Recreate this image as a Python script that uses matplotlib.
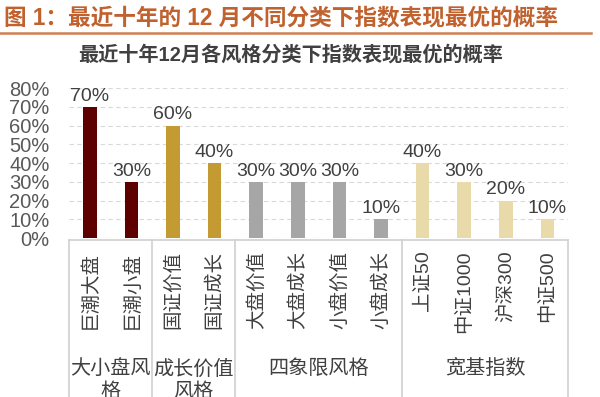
import matplotlib
matplotlib.use("Agg")
from matplotlib import pyplot as plt
from matplotlib.lines import Line2D

plt.rcParams['font.family'] = ['Liberation Sans', 'Noto Sans CJK SC', 'DejaVu Sans']

names = ["巨潮大盘", "巨潮小盘", "国证价值", "国证成长", "大盘价值", "大盘成长",
         "小盘价值", "小盘成长", "上证50", "中证1000", "沪深300", "中证500"]
probs = [0.7, 0.3, 0.6, 0.4, 0.3, 0.3, 0.3, 0.1, 0.4, 0.3, 0.2, 0.1]
groups = ["大小盘风\n格", "成长价值\n风格", "四象限风格", "宽基指数"]
group_sizes = [2, 2, 4, 4]
group_colors = ["#5E0000", "#C39B32", "#A6A6A6", "#E9DAAA"]

colors = []
for c, n in zip(group_colors, group_sizes):
    colors += [c] * n

fig = plt.figure(figsize=(6, 3.97), dpi=100)
ax = fig.add_axes([0.115, 0.4005, 0.832, 0.3775])

x = list(range(len(names)))
ax.bar(x, probs, width=0.33, color=colors, zorder=3)
for i, v in zip(x, probs):
    ax.text(i, v + 0.012, f"{int(round(v * 100))}%", ha='center', va='bottom',
            fontsize=14, color='#404040', clip_on=False)

ax.set_xlim(-0.5, len(names) - 0.5)
ax.set_ylim(0, 0.8)
ax.set_yticks([i / 10 for i in range(9)])
ax.set_yticklabels([f"{i * 10}%" for i in range(9)], fontsize=14.5, color='#595959')
ax.tick_params(axis='y', length=0, pad=14)
ax.set_xticks([])
for s in ax.spines.values():
    s.set_visible(False)
ax.grid(axis='y', color='#D9D9D9', linestyle=(0, (4, 3)), linewidth=0.8, zorder=0)

# category box below the axis
tr = ax.get_xaxis_transform()
ax.plot([-0.5, len(names) - 0.5], [-0.012, -0.012], transform=tr, color='#D0D0D0',
        lw=1.2, clip_on=False)
bounds = [-0.5]
for n in group_sizes:
    bounds.append(bounds[-1] + n)
for b in bounds:
    ax.plot([b, b], [-0.012, -1.1], transform=tr, color='#D0D0D0', lw=1.2, clip_on=False)

for i, name in enumerate(names):
    ax.text(i, -0.085, name, rotation=90, ha='center', va='top', fontsize=14,
            color='#404040', transform=tr)

for g, lo, hi in zip(groups, bounds[:-1], bounds[1:]):
    ax.text((lo + hi) / 2, -0.81, g, ha='center', va='top', fontsize=14.5,
            color='#404040', transform=tr, linespacing=1.25)

# header
fig.text(0.006, 0.955, "图 1：最近十年的 12 月不同分类下指数表现最优的概率", fontsize=16.3,
         fontweight='bold', color='#C0612E', va='center', ha='left')
fig.add_artist(Line2D([0.0, 0.985], [0.918, 0.918], transform=fig.transFigure,
                      color='#D08050', lw=1.8))
fig.text(0.485, 0.862, "最近十年12月各风格分类下指数表现最优的概率", fontsize=14.5,
         fontweight='bold', color='#404040', ha='center', va='center')

fig.savefig("out.png", dpi=100)
